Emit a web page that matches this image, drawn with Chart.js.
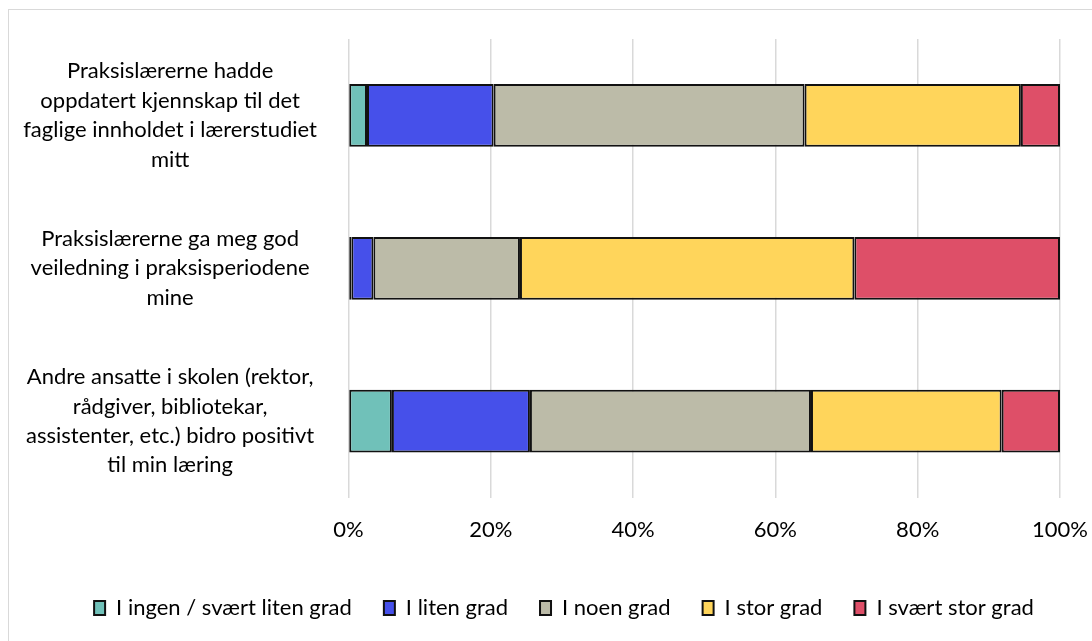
<!DOCTYPE html>
<html>
<head>
<meta charset="utf-8">
<script src="https://cdn.jsdelivr.net/npm/chart.js@4/dist/chart.umd.min.js"></script>
<style>
  html, body { margin: 0; padding: 0; background: #fff; overflow: hidden; }
  #wrap { position: relative; width: 1092px; height: 641px; }
  #frame { position: absolute; left: 8px; top: 9px; width: 1200px; height: 800px; border: 1.5px solid #d9d9d9; box-sizing: border-box; }
  canvas { position: absolute; left: 0; top: 0; }
</style>
</head>
<body>
<div id="wrap">
  <div id="frame"></div>
  <canvas id="c" width="1092" height="641"></canvas>
</div>
<script>
const categories = [
  ["Praksislærerne hadde", "oppdatert kjennskap til det", "faglige innholdet i lærerstudiet", "mitt"],
  ["Praksislærerne ga meg god", "veiledning i praksisperiodene", "mine"],
  ["Andre ansatte i skolen (rektor,", "rådgiver, bibliotekar,", "assistenter, etc.) bidro positivt", "til min læring"]
];
const seriesNames = ["I ingen / svært liten grad", "I liten grad", "I noen grad", "I stor grad", "I svært stor grad"];
const ingen = [2.6, 0.4, 6.1];
const liten = [17.8, 3.1, 19.4];
const noen = [43.7, 20.6, 39.5];
const stor = [30.4, 47.0, 26.8];
const sværtStor = [5.5, 28.9, 8.2];
const tickValues = [0, 20, 40, 60, 80, 100];
const colors = ["#70c1b9", "#4650ea", "#bcbba8", "#ffd55b", "#de4f68"];

const seriesData = [ingen, liten, noen, stor, sværtStor];
const FONT = "Lato, 'Liberation Sans', sans-serif";

const legendShift = {
  id: 'legendShift',
  afterLayout(chart) {
    if (chart.legend) { chart.legend.left += 34; chart.legend.right += 34; }
  }
};

new Chart(document.getElementById('c'), {
  type: 'bar',
  data: {
    labels: categories,
    datasets: seriesData.map((d, i) => ({
      label: seriesNames[i],
      data: d,
      backgroundColor: colors[i],
      borderColor: '#111',
      borderWidth: 2,
      borderSkipped: false,
      barPercentage: 0.41,
      categoryPercentage: 1.0
    }))
  },
  plugins: [legendShift],
  options: {
    indexAxis: 'y',
    responsive: false,
    animation: false,
    layout: { padding: { left: 0, right: 32, top: 39, bottom: 12 } },
    scales: {
      x: {
        stacked: true,
        min: 0, max: 100,
        afterBuildTicks: (s) => { s.ticks = tickValues.map(v => ({ value: v })); },
        afterFit: (s) => { s.paddingLeft = 0; s.paddingRight = 0; s.height += 3; },
        ticks: {
          callback: (v) => v + '%',
          color: '#000',
          font: { family: FONT, size: 22 },
          padding: 19
        },
        grid: { color: '#d9d9d9', lineWidth: 1.5, drawTicks: false },
        border: { display: false }
      },
      y: {
        stacked: true,
        afterFit: (s) => { s.width = 348.5; s.paddingTop = 0; s.paddingBottom = 0; },
        ticks: {
          color: '#000',
          font: { family: FONT, size: 22, lineHeight: 1.34 },
          crossAlign: 'center',
          padding: 23.5
        },
        grid: { display: false },
        border: { display: false }
      }
    },
    plugins: {
      legend: {
        position: 'bottom',
        labels: {
          color: '#000',
          font: { family: FONT, size: 22 },
          boxWidth: 11,
          boxHeight: 14,
          padding: 32,
          generateLabels: (chart) => chart.data.datasets.map((ds, i) => ({
            text: ds.label,
            fillStyle: ds.backgroundColor,
            strokeStyle: '#111',
            lineWidth: 2,
            datasetIndex: i,
            hidden: false
          }))
        }
      },
      tooltip: { enabled: false }
    }
  }
});
</script>
</body>
</html>
